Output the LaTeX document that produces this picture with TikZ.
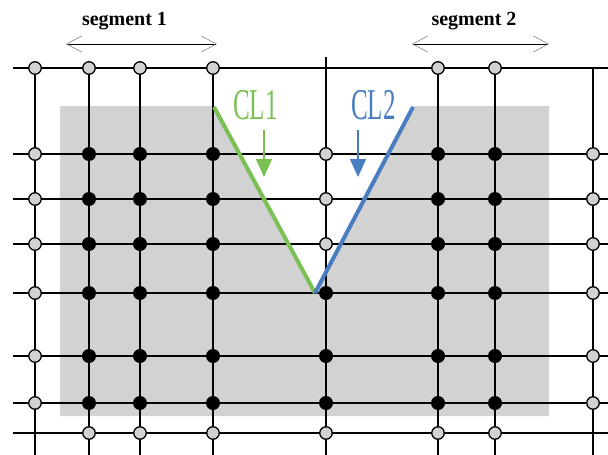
\documentclass[tikz,border=0pt]{standalone}
\usepackage{fontspec}
\setmainfont{Liberation Serif}
\usepackage{graphicx}
\usepackage{xcolor}
\usetikzlibrary{arrows.meta}

\definecolor{clgreen}{RGB}{122,192,82}
\definecolor{clblue}{RGB}{72,126,192}

\tikzset{
  gridline/.style={black, line width=1.8pt},
  jopen/.style={circle, draw=black, fill=gray!35, line width=1.3pt, minimum size=12.5pt, inner sep=0pt},
  jfull/.style={circle, fill=black, minimum size=14pt, inner sep=0pt},
  segarrow/.style={black, line width=1pt,
    {Straight Barb[length=15pt, width=16pt, line width=0.6pt, color=gray]}-{Straight Barb[length=15pt, width=16pt, line width=0.6pt, color=gray]}},
  seglabel/.style={anchor=base, font=\bfseries\fontsize{20}{20}\selectfont},
  cllabel/.style={anchor=base, font=\fontsize{44}{44}\selectfont, inner sep=0pt},
}

\begin{document}
\begin{tikzpicture}[x=1pt,y=-1pt]
\useasboundingbox (0,0) rectangle (608,455);

% Gray panel with the V cut out
\fill[gray!35] (60,106) -- (214,106) -- (315,293) -- (413,106) -- (549,106)
  -- (549,416) -- (60,416) -- cycle;

% Grid lines
\foreach \y in {68,154,199,244,293,356,403,433}
  \draw[gridline] (13,\y) -- (608,\y);
\foreach \x in {35,89,140,213,438,495,593}
  \draw[gridline] (\x,68) -- (\x,455);
\draw[gridline] (326,57) -- (326,455);

% Cut lines
\coordinate (vtip) at (315,293);
\coordinate (cl1top) at (214,107);
\coordinate (cl2top) at (413,107);
\draw[clgreen, line width=4pt] (cl1top) -- (vtip);
\draw[clblue, line width=4pt] (vtip) -- (cl2top);

% Junctions
\foreach \x in {35,89,140,213,438,495}
  \node[jopen] (j-\x-68) at (\x,68) {};
\foreach \y in {154,199,244}{
  \foreach \x in {35,326,593}
    \node[jopen] (j-\x-\y) at (\x,\y) {};
  \foreach \x in {89,140,213,438,495}
    \node[jfull] (j-\x-\y) at (\x,\y) {};
}
\foreach \y in {293,356,403}{
  \foreach \x in {35,593}
    \node[jopen] (j-\x-\y) at (\x,\y) {};
  \foreach \x in {89,140,213,326,438,495}
    \node[jfull] (j-\x-\y) at (\x,\y) {};
}
\foreach \x in {89,140,213,326,438,495}
  \node[jopen] (j-\x-433) at (\x,433) {};

% Segments
\node[seglabel] (seg1) at (124.5,25) {segment 1};
\node[seglabel] (seg2) at (474,25) {segment 2};
\coordinate (seg1l) at (66,44);
\coordinate (seg1r) at (217,44);
\coordinate (seg2l) at (412,44);
\coordinate (seg2r) at (549,44);
\draw[segarrow] (seg1l) -- (seg1r);
\draw[segarrow] (seg2l) -- (seg2r);

% Cut line labels
\node[cllabel, text=clgreen] (cl1) at (255.5,119) {\scalebox{0.57}[1]{CL1}};
\node[cllabel, text=clblue] (cl2) at (373.5,119) {\scalebox{0.57}[1]{CL2}};
\coordinate (cl1a) at (264,130);
\coordinate (cl1b) at (264,177);
\coordinate (cl2a) at (358,130);
\coordinate (cl2b) at (358,177);
\draw[clgreen, line width=1.5pt, -{Triangle[length=18pt, width=16pt]}] (cl1a) -- (cl1b);
\draw[clblue, line width=1.5pt, -{Triangle[length=18pt, width=16pt]}] (cl2a) -- (cl2b);

\end{tikzpicture}
\end{document}
